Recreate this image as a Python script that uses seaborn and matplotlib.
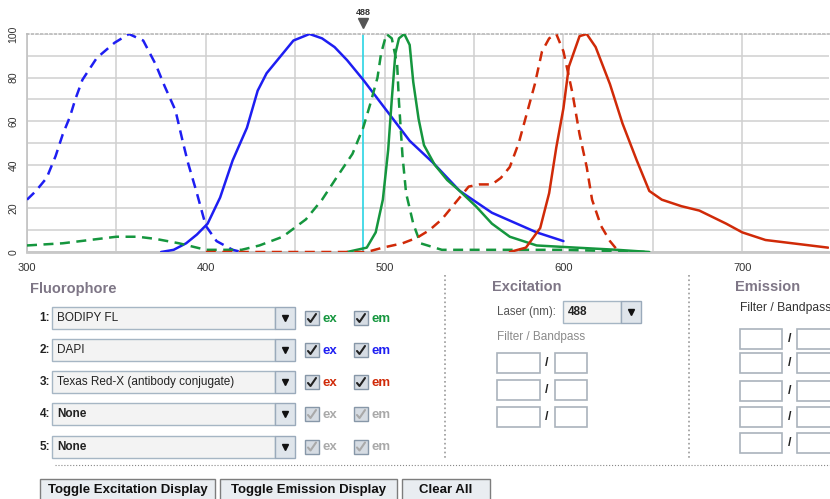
import pandas as pd
import seaborn as sns
import matplotlib.pyplot as plt
import matplotlib.transforms as mtransforms
from matplotlib.patches import Rectangle


# Spectra (wavelength nm, relative intensity %)
dapi_ex_wl = [300, 305, 311, 316, 320, 324, 327, 331, 339, 349, 357, 365, 372, 377, 383, 387, 390, 395, 398, 400, 406, 415, 420]
dapi_ex_val = [24, 28, 34, 44, 54, 62, 70, 79, 89, 96, 100, 97, 86, 76, 65, 51, 41, 27, 18, 12, 5, 1, 0]

dapi_em_wl = [375, 382, 389, 395, 401, 408, 415, 423, 429, 434, 440, 449, 458, 465, 472, 479, 488, 501, 514, 527, 542, 560, 585, 600]
dapi_em_val = [0, 1, 4, 8, 13, 25, 42, 57, 74, 82, 88, 97, 100, 98, 94, 88, 79, 65, 51, 41, 28, 18, 9, 5]

bodipy_ex_wl = [300, 320, 340, 350, 362, 372, 385, 395, 400, 410, 420, 430, 443, 456, 465, 473, 482, 488, 492, 496, 498, 501, 504, 507, 508, 510, 512, 516, 520, 532, 560, 600, 648]
bodipy_ex_val = [3, 4, 6, 7, 7, 6, 4, 2, 1, 1, 1, 3, 7, 15, 24, 34, 45, 57, 68, 80, 91, 100, 98, 86, 69, 44, 27, 13, 4, 1, 1, 1, 0]

bodipy_em_wl = [479, 490, 495, 499, 502, 504, 506, 508, 511, 514, 516, 519, 522, 528, 535, 542, 551, 560, 570, 585, 607, 630, 648]
bodipy_em_val = [0, 2, 9, 24, 47, 70, 91, 98, 100, 95, 78, 61, 49, 40, 33, 28, 21, 13, 7, 3, 2, 1, 0]

texas_ex_wl = [400, 450, 490, 499, 510, 518, 525, 532, 538, 547, 553, 560, 565, 570, 575, 579, 584, 588, 592, 596, 600, 605, 609, 613, 616, 621, 626, 630]
texas_ex_val = [0, 0, 0, 2, 4, 6.5, 10, 15, 21, 30, 31, 31, 34, 39, 50, 62, 77, 92, 98, 100, 92, 73, 54, 39, 24, 12, 5, 1]

texas_em_wl = [570, 579, 587, 592, 596, 600, 603, 609, 613, 618, 626, 633, 641, 648, 655, 666, 676, 691, 700, 713, 728, 748]
texas_em_val = [0, 2, 11, 27, 48, 66, 85, 99, 100, 94, 77, 59, 42, 28, 24, 21, 19, 13, 9, 5.5, 4, 2]

laser_nm = 488
x_ticks = [300, 400, 500, 600, 700]
y_ticks = [0, 20, 40, 60, 80, 100]

fluor_names = ["BODIPY FL", "DAPI", "Texas Red-X (antibody conjugate)", "None", "None"]
button_labels = ["Toggle Excitation Display", "Toggle Emission Display", "Clear All"]

GREEN = "#15963e"
BLUE = "#1e1ef2"
RED = "#d02a08"
GRAY = "#a9a9a9"
HEAD = "#7e7686"

sns.set_theme(style="white")
plt.rcParams["font.family"] = ["Liberation Sans", "DejaVu Sans"]

frames = []
for dye, kind, wl, val in [
    ("DAPI", "ex", dapi_ex_wl, dapi_ex_val),
    ("DAPI", "em", dapi_em_wl, dapi_em_val),
    ("BODIPY FL", "ex", bodipy_ex_wl, bodipy_ex_val),
    ("BODIPY FL", "em", bodipy_em_wl, bodipy_em_val),
    ("Texas Red-X", "ex", texas_ex_wl, texas_ex_val),
    ("Texas Red-X", "em", texas_em_wl, texas_em_val),
]:
    frames.append(pd.DataFrame({"wl": wl, "val": val, "dye": dye, "kind": kind}))
spectra = pd.concat(frames, ignore_index=True)

fig = plt.figure(figsize=(8.3, 4.99), dpi=100)
ax = fig.add_axes([27 / 830, 1 - 252 / 499, 802 / 830, 218 / 499])

sns.lineplot(
    data=spectra, x="wl", y="val", hue="dye", style="kind",
    palette={"DAPI": BLUE, "BODIPY FL": GREEN, "Texas Red-X": RED},
    dashes={"ex": (4.0, 2.6), "em": ""},
    estimator=None, lw=1.8, legend=False, ax=ax, zorder=3,
)
ax.axvline(laser_nm, color="#2ad4e4", lw=1.2, zorder=1)

ax.set_xlim(300, 748.5)
ax.set_ylim(0, 100)
ax.set_xticks(x_ticks)
ax.set_xticks([350, 450, 550, 650], minor=True)
ax.set_yticks(y_ticks)
ax.set_yticks([10, 30, 50, 70, 90], minor=True)
ax.grid(which="both", color="#d0d0d0", lw=1.1)
ax.get_ygridlines()[-1].set_linestyle(":")
ax.tick_params(which="both", length=0)
ax.tick_params(axis="y", labelrotation=90, pad=6, labelsize=7.5, labelcolor="#333")
ax.tick_params(axis="x", pad=8, labelsize=8, labelcolor="#333")
for lab in ax.get_yticklabels():
    lab.set_va("center")
ax.set_xlabel("")
ax.set_ylabel("")
ax.spines["right"].set_visible(False)
ax.spines["top"].set_linestyle(":")
ax.spines["top"].set_color("#bbbbbb")
ax.spines["left"].set_color("#c4c4c4")
ax.spines["bottom"].set_color("#c8c8c8")
ax.spines["bottom"].set_linewidth(2)

# laser marker above the plot
trans = mtransforms.blended_transform_factory(ax.transData, ax.transAxes)
ax.text(laser_nm, 1.10, str(laser_nm), transform=trans, ha="center", va="center",
        fontsize=6.5, weight="bold", color="#333")
ax.plot([laser_nm], [1.05], marker="v", ms=7, color="#555", transform=trans, clip_on=False)

# form panel below the chart, drawn in pixel coords
ui = fig.add_axes([0, 0, 1, 1])
ui.set_xlim(0, 830)
ui.set_ylim(499, 0)
ui.axis("off")
ui.patch.set_alpha(0)


def dropdown(x0, x1, y, text, bold=False):
    ui.add_patch(Rectangle((x0, y - 11), x1 - x0 - 20, 22, fc="#f3f3f3", ec="#a6b6c4", lw=1))
    ui.add_patch(Rectangle((x1 - 20, y - 11), 20, 22, fc="#dfe5eb", ec="#9aaabb", lw=1))
    ui.plot([x1 - 10], [y], marker="v", ms=5, color="#111")
    ui.text(x0 + 5, y, text, fontsize=8.5, va="center", color="#222",
            weight="bold" if bold else "normal")


def checkbox(x, y, label, color):
    ui.add_patch(Rectangle((x, y - 7), 14, 14, fc="#d6dce3", ec="#8797a8", lw=1))
    ui.plot([x + 3, x + 5.5, x + 11], [y + 1, y + 4, y - 4], color="#222" if color != GRAY else GRAY, lw=1.5)
    ui.text(x + 17, y + 0.5, label, fontsize=9.5, weight="bold", va="center", color=color)


def entry(x, y, w):
    ui.add_patch(Rectangle((x, y - 10), w, 20, fc="white", ec="#aab3bc", lw=1.2))


ui.text(30, 289, "Fluorophore", fontsize=10.5, weight="bold", color=HEAD, va="center")
row_y = [318, 350, 382, 414, 446.5]
row_colors = [GREEN, BLUE, RED, GRAY, GRAY]
for i, (y, name, col) in enumerate(zip(row_y, fluor_names, row_colors)):
    ui.text(50, y, f"{i + 1}:", fontsize=8.5, weight="bold", ha="right", va="center", color="#222")
    dropdown(52, 295, y, name, bold=(name == "None"))
    checkbox(305, y, "ex", col)
    checkbox(354, y, "em", col)

ui.plot([55, 830], [465, 465], ls=":", color="#888", lw=0.8)
ui.plot([445, 445], [275, 458], ls=":", color="#999", lw=1.2)
ui.plot([689, 689], [275, 458], ls=":", color="#999", lw=1.2)

ui.text(492, 287, "Excitation", fontsize=10.5, weight="bold", color=HEAD, va="center")
ui.text(497, 312, "Laser (nm):", fontsize=8.3, color="#555", va="center")
dropdown(563, 641, 312, str(laser_nm), bold=True)
ui.text(497, 337, "Filter / Bandpass", fontsize=8.5, color="#8a8a8a", va="center")
for y in [363, 390, 417]:
    entry(497, y, 43)
    ui.text(547, y, "/", fontsize=9, weight="bold", ha="center", va="center", color="#222")
    entry(555, y, 32)

ui.text(735, 287, "Emission", fontsize=10.5, weight="bold", color=HEAD, va="center")
ui.text(740, 308, "Filter / Bandpass", fontsize=8.7, color="#333", va="center")
for y in [339, 363, 391, 417, 443]:
    entry(740, y, 42)
    ui.text(790, y, "/", fontsize=9, weight="bold", ha="center", va="center", color="#222")
    entry(797, y, 40)

for (x0, x1), lab in zip([(40, 215), (220, 397), (402, 490)], button_labels):
    ui.add_patch(Rectangle((x0, 479), x1 - x0, 24, fc="#e9edf1", ec="#7d7d7d", lw=1))
    ui.text((x0 + x1) / 2, 490, lab, fontsize=9.5, weight="bold", ha="center", va="center", color="#111")

fig.savefig("out.png", dpi=100)
